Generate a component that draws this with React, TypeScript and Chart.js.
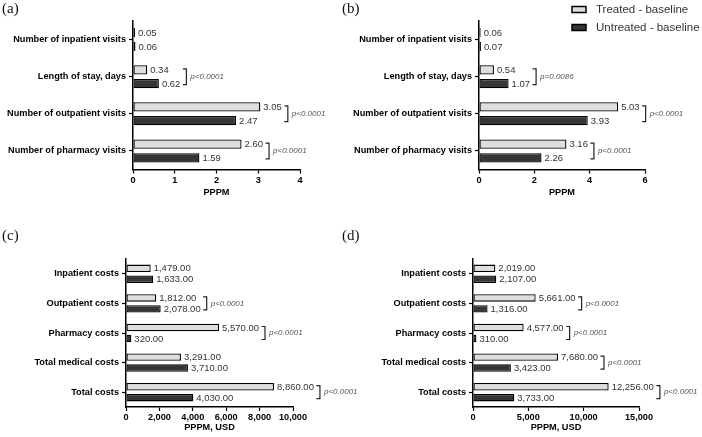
import React, { useEffect, useRef } from "react";
import { Chart, registerables } from "chart.js";

Chart.register(...registerables);

const seriesNames = ["Treated - baseline", "Untreated - baseline"];

const visitCategories = [
  "Number of inpatient visits",
  "Length of stay, days",
  "Number of outpatient visits",
  "Number of pharmacy visits",
];
const costCategories = [
  "Inpatient costs",
  "Outpatient costs",
  "Pharmacy costs",
  "Total medical costs",
  "Total costs",
];

const aTreated = [0.05, 0.34, 3.05, 2.6];
const aUntreated = [0.06, 0.62, 2.47, 1.59];
const aPvals = [null, "p<0.0001", "p<0.0001", "p<0.0001"];

const bTreated = [0.06, 0.54, 5.03, 3.16];
const bUntreated = [0.07, 1.07, 3.93, 2.26];
const bPvals = [null, "p=0.0086", "p<0.0001", "p<0.0001"];

const cTreated = [1479, 1812, 5570, 3291, 8860];
const cUntreated = [1633, 2078, 320, 3710, 4030];
const cPvals = [null, "p<0.0001", "p<0.0001", null, "p<0.0001"];

const dTreated = [2019, 5661, 4577, 7680, 12256];
const dUntreated = [2107, 1316, 310, 3423, 3733];
const dPvals = [null, "p<0.0001", "p<0.0001", "p<0.0001", "p<0.0001"];

const FONT = '"Liberation Sans", Arial, sans-serif';
const LIGHT = "#dedede";
const DARK = "#363636";

const fmtDec = (v: number) => v.toFixed(2);
const fmtMoney = (v: number) =>
  v.toLocaleString("en-US", { minimumFractionDigits: 2, maximumFractionDigits: 2 });
const fmtInt = (v: number) => v.toLocaleString("en-US");

const annotPlugin = {
  id: "annot",
  afterDatasetsDraw(chart: any, _args: any, opts: any) {
    const ctx = chart.ctx;
    const fmt = opts.fmt as (v: number) => string;
    const pvals = opts.pvals as (string | null)[];
    const m0 = chart.getDatasetMeta(0);
    const m1 = chart.getDatasetMeta(1);
    ctx.save();
    ctx.textBaseline = "middle";
    ctx.textAlign = "left";
    const n = chart.data.labels.length;
    for (let i = 0; i < n; i++) {
      const ends: number[] = [];
      const ys: number[] = [];
      [m0, m1].forEach((m: any, di: number) => {
        const el = m.data[i];
        const v = chart.data.datasets[di].data[i];
        const txt = fmt(v);
        const x = el.x + 3;
        ctx.font = `9.5px ${FONT}`;
        ctx.fillStyle = "#333";
        ctx.fillText(txt, x, el.y + 0.5);
        ends.push(x + ctx.measureText(txt).width);
        ys.push(el.y);
      });
      const p = pvals[i];
      if (p) {
        const bx = Math.max(ends[0], ends[1]) + 6;
        const yt = ys[0] - 1;
        const yb = ys[1] + 1;
        ctx.strokeStyle = "#222";
        ctx.lineWidth = 1.2;
        ctx.beginPath();
        ctx.moveTo(bx - 3.5, yt);
        ctx.lineTo(bx, yt);
        ctx.lineTo(bx, yb);
        ctx.lineTo(bx - 3.5, yb);
        ctx.stroke();
        ctx.font = `italic 8px ${FONT}`;
        ctx.fillStyle = "#555";
        ctx.fillText(p, bx + 4, (yt + yb) / 2);
      }
    }
    if (opts.legend) {
      const lg = opts.legend;
      chart.data.datasets.forEach((ds: any, di: number) => {
        const cy = lg.y + di * lg.gap;
        ctx.fillStyle = ds.backgroundColor;
        ctx.strokeStyle = "#000";
        ctx.lineWidth = 1.5;
        ctx.fillRect(lg.x, cy - 3, 14, 6);
        ctx.strokeRect(lg.x, cy - 3, 14, 6);
        ctx.font = `11.5px ${FONT}`;
        ctx.fillStyle = "#333";
        ctx.textBaseline = "middle";
        ctx.fillText(ds.label, lg.tx, cy + 0.5);
      });
    }
    ctx.restore();
  },
};

type PanelProps = {
  left: number;
  top: number;
  width: number;
  height: number;
  axisWidth: number;
  padTop: number;
  padRight: number;
  padBottom: number;
  xHeight: number;
  labels: string[];
  treated: number[];
  untreated: number[];
  pvals: (string | null)[];
  max: number;
  step: number;
  title: string;
  fmt: (v: number) => string;
  tickFmt: (v: number) => string;
  legend?: any;
};

function Panel(p: PanelProps) {
  const ref = useRef<HTMLCanvasElement>(null);
  useEffect(() => {
    if (!ref.current) return;
    const tickFont = { family: FONT, size: 9.2, weight: "bold" as const };
    const chart = new Chart(ref.current, {
      type: "bar",
      data: {
        labels: p.labels,
        datasets: [
          {
            label: seriesNames[0],
            data: p.treated,
            backgroundColor: LIGHT,
            borderColor: "#000",
            borderWidth: 1.3,
            borderSkipped: false,
            categoryPercentage: 0.74,
            barPercentage: 0.68,
          },
          {
            label: seriesNames[1],
            data: p.untreated,
            backgroundColor: DARK,
            borderColor: "#000",
            borderWidth: 1.3,
            borderSkipped: false,
            categoryPercentage: 0.74,
            barPercentage: 0.68,
          },
        ],
      },
      options: {
        indexAxis: "y",
        responsive: false,
        animation: false,
        devicePixelRatio: 1,
        layout: {
          padding: { left: 0, top: p.padTop, right: p.padRight, bottom: p.padBottom },
        },
        plugins: {
          legend: { display: false },
          tooltip: { enabled: false },
          annot: { fmt: p.fmt, pvals: p.pvals, legend: p.legend },
        } as any,
        scales: {
          x: {
            type: "linear",
            min: 0,
            max: p.max,
            ticks: {
              stepSize: p.step,
              color: "#000",
              font: tickFont,
              padding: 1,
              maxRotation: 0,
              minRotation: 0,
              autoSkip: false,
              callback: (v: any) => p.tickFmt(Number(v)),
            },
            grid: {
              display: true,
              drawOnChartArea: false,
              drawTicks: true,
              tickLength: 4,
              tickWidth: 1.2,
              tickColor: "#000",
            },
            border: { display: true, color: "#000", width: 1.5 },
            title: {
              display: true,
              text: p.title,
              color: "#000",
              font: { family: FONT, size: 9.2, weight: "bold" },
              padding: 0,
            },
            afterFit: (s: any) => {
              s.height = p.xHeight;
            },
          },
          y: {
            type: "category",
            offset: true,
            ticks: { color: "#000", font: tickFont, padding: 3 },
            grid: {
              display: true,
              offset: false,
              drawOnChartArea: false,
              drawTicks: true,
              tickLength: 4,
              tickWidth: 1.2,
              tickColor: "#000",
            },
            border: { display: true, color: "#000", width: 1.5 },
            afterFit: (s: any) => {
              s.width = p.axisWidth;
            },
          },
        },
      } as any,
      plugins: [annotPlugin],
    });
    return () => chart.destroy();
  }, []);
  return (
    <canvas
      ref={ref}
      width={p.width}
      height={p.height}
      style={{
        position: "absolute",
        left: p.left,
        top: p.top,
        width: p.width,
        height: p.height,
      }}
    />
  );
}

const labelStyle = (left: number, top: number): React.CSSProperties => ({
  position: "absolute",
  left,
  top,
  font: '15px "Liberation Serif", "DejaVu Serif", serif',
  lineHeight: "15px",
  color: "#111",
});

export default function App() {
  return (
    <div
      style={{
        position: "absolute",
        left: 0,
        top: 0,
        width: 702,
        height: 437,
        background: "#fff",
        overflow: "hidden",
      }}
    >
      <Panel
        left={0}
        top={0}
        width={351}
        height={218}
        axisWidth={133}
        padTop={21}
        padRight={51}
        padBottom={20.5}
        xHeight={28}
        labels={visitCategories}
        treated={aTreated}
        untreated={aUntreated}
        pvals={aPvals}
        max={4}
        step={1}
        title="PPPM"
        fmt={fmtDec}
        tickFmt={fmtInt}
      />
      <Panel
        left={351}
        top={0}
        width={351}
        height={218}
        axisWidth={128}
        padTop={21}
        padRight={57}
        padBottom={20.5}
        xHeight={28}
        labels={visitCategories}
        treated={bTreated}
        untreated={bUntreated}
        pvals={bPvals}
        max={6}
        step={2}
        title="PPPM"
        fmt={fmtDec}
        tickFmt={fmtInt}
        legend={{ x: 221, tx: 245, y: 9.5, gap: 18 }}
      />
      <Panel
        left={0}
        top={218}
        width={400}
        height={219}
        axisWidth={126}
        padTop={41}
        padRight={107}
        padBottom={4.3}
        xHeight={25.7}
        labels={costCategories}
        treated={cTreated}
        untreated={cUntreated}
        pvals={cPvals}
        max={10000}
        step={2000}
        title="PPPM, USD"
        fmt={fmtMoney}
        tickFmt={fmtInt}
      />
      <Panel
        left={351}
        top={218}
        width={351}
        height={219}
        axisWidth={122}
        padTop={41}
        padRight={63}
        padBottom={4.3}
        xHeight={25.7}
        labels={costCategories}
        treated={dTreated}
        untreated={dUntreated}
        pvals={dPvals}
        max={15000}
        step={5000}
        title="PPPM, USD"
        fmt={fmtMoney}
        tickFmt={fmtInt}
      />
      <div style={labelStyle(2, 1)}>(a)</div>
      <div style={labelStyle(342, 1)}>(b)</div>
      <div style={labelStyle(2, 228)}>(c)</div>
      <div style={labelStyle(342, 228)}>(d)</div>
    </div>
  );
}
